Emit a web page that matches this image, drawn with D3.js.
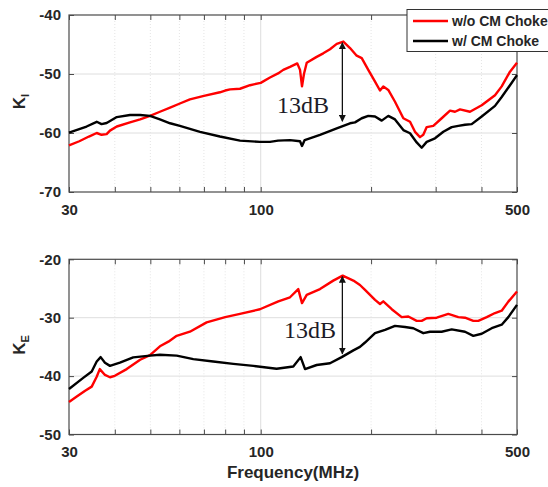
<!DOCTYPE html>
<html>
<head>
<meta charset="utf-8">
<script src="https://cdn.jsdelivr.net/npm/d3@7"></script>
<style>
  html, body { margin: 0; padding: 0; background: #fff; }
  svg { display: block; font-family: "Liberation Sans", Arial, sans-serif; }
</style>
</head>
<body>
<svg id="chart" width="548" height="487"></svg>
<script>
// ---------- DATA ----------
const freqTicks = [30, 40, 50, 60, 70, 80, 90, 100, 200, 300, 400, 500];
const freqLabels = [30, 100, 500];
const kiTicks = [-70, -60, -50, -40];
const keTicks = [-50, -40, -30, -20];
const seriesNames = ["w/o CM Choke", "w/ CM Choke"];
const seriesColors = ["#ff0000", "#000000"];

// K_I without CM choke  [MHz, dB]
const kiWithout = [
  [30,-62.1],[32,-61.4],[34,-60.6],[35.7,-60.0],[36.8,-60.3],[38.0,-60.2],[38.8,-59.6],
  [40.5,-58.9],[44.0,-58.2],[46.9,-57.7],[49.9,-57.1],[53.1,-56.4],[56.6,-55.7],[60.2,-55.0],
  [64.1,-54.3],[70.0,-53.7],[77.4,-53.1],[80.0,-52.8],[82.5,-52.6],[87.8,-52.5],[93.5,-51.9],
  [100,-51.5],[106,-50.6],[111.5,-49.9],[115.2,-49.3],[120.2,-48.8],[125.8,-48.2],[128.0,-49.3],
  [129.6,-52.1],[131.2,-50.0],[133.5,-48.1],[142.1,-47.1],[148.1,-46.5],[154.5,-45.8],
  [161.2,-44.9],[168.0,-44.5],[175.2,-45.6],[182.7,-46.9],[188.6,-47.3],[196.5,-49.3],
  [205.0,-51.3],[211.5,-52.8],[215.9,-52.1],[222.8,-52.7],[232.4,-54.7],[244.9,-57.5],
  [255.4,-58.1],[263.5,-59.8],[271.9,-60.7],[277.6,-60.3],[283.6,-59.0],[295.6,-58.8],
  [311.6,-57.5],[328.3,-56.2],[338.8,-56.4],[349.6,-56.0],[372.2,-56.4],[400.6,-55.3],
  [435.5,-53.6],[454.2,-52.1],[478.5,-49.6],[500,-48.1]
];
// K_I with CM choke
const kiWith = [
  [30,-59.95],[33.5,-58.9],[35.7,-58.1],[36.8,-58.5],[38.0,-58.3],[40.5,-57.3],[44.0,-56.95],
  [46.9,-56.95],[49.9,-57.1],[53.1,-57.7],[56.6,-58.35],[60.2,-58.8],[68.3,-59.8],[77.4,-60.6],
  [87.8,-61.3],[99.5,-61.5],[106,-61.5],[111.5,-61.3],[120.2,-61.2],[128.0,-61.4],[129.6,-62.2],
  [131.8,-61.2],[145.1,-60.3],[161.2,-59.2],[175.2,-58.35],[180.8,-58.2],[188.6,-57.5],
  [196.5,-57.1],[205.0,-57.2],[213.8,-57.9],[222.8,-57.1],[232.4,-57.7],[244.9,-59.5],
  [255.4,-60.05],[266.3,-61.6],[274.8,-62.5],[283.6,-61.5],[298.8,-60.9],[314.8,-59.8],
  [331.8,-59.0],[345.9,-58.8],[360.7,-58.6],[376.2,-58.5],[400.6,-57.2],[435.5,-55.4],
  [454.2,-53.9],[478.5,-51.9],[500,-50.2]
];
// K_E without CM choke
const keWithout = [
  [30,-44.45],[31.5,-43.5],[33.2,-42.5],[34.6,-41.8],[35.7,-40.1],[36.4,-38.8],[37.6,-39.8],
  [38.8,-40.2],[40.0,-39.95],[43.1,-38.8],[46.9,-37.2],[49.9,-36.4],[53.1,-34.9],[56.0,-34.1],
  [59.0,-33.1],[64.1,-32.4],[71.2,-30.8],[80.0,-29.9],[87.8,-29.35],[99.5,-28.55],[111.7,-27.2],
  [120.2,-26.5],[126.6,-25.1],[129.6,-27.5],[133.5,-26.1],[145.1,-25.1],[157.7,-23.65],
  [167.3,-22.8],[178.9,-23.65],[186.5,-24.4],[192.5,-25.25],[205.0,-26.95],[211.5,-27.65],
  [215.9,-27.2],[227.7,-28.55],[242.4,-29.9],[252.7,-29.8],[266.3,-30.55],[274.8,-30.55],
  [283.6,-30.1],[302.0,-30.0],[324.8,-29.35],[345.9,-29.9],[360.7,-30.0],[380.0,-30.55],
  [392.1,-30.55],[413.4,-29.9],[435.5,-29.2],[454.2,-28.8],[473.5,-27.25],[500,-25.5]
];
// K_E with CM choke
const keWith = [
  [30,-42.2],[32.8,-40.3],[34.6,-39.2],[35.7,-37.5],[36.6,-36.75],[37.6,-37.7],[38.8,-38.25],
  [41.3,-37.7],[44.9,-36.8],[49.9,-36.5],[53.1,-36.35],[59.0,-36.5],[65.5,-37.1],[74.2,-37.5],
  [84.2,-37.9],[95.5,-38.25],[110.5,-38.75],[122.7,-38.35],[128.5,-36.75],[132.1,-38.8],
  [142.1,-38.1],[154.5,-37.8],[166.3,-36.75],[178.9,-35.6],[186.5,-35.0],[192.5,-34.25],
  [205.0,-32.65],[218.3,-32.1],[232.4,-31.4],[247.5,-31.6],[260.7,-31.8],[277.6,-32.65],
  [289.5,-32.4],[311.6,-32.4],[331.8,-32.0],[360.7,-32.4],[380.0,-33.1],[400.6,-32.75],
  [426.6,-31.8],[454.2,-31.2],[473.5,-29.9],[500,-27.8]
];
// annotations: [freq, top dB, bottom dB], text anchor [freq, dB]
const kiArrow = [167, -44.7, -58.0];
const keArrow = [167, -22.95, -36.2];
const kiNote = [110.8, -56.6];
const keNote = [115.7, -33.5];
const noteText = "13dB";

// ---------- DRAWING ----------
const svg = d3.select("#chart");
const defs = svg.append("defs");
defs.append("marker").attr("id", "ah").attr("viewBox", "0 0 10 10")
  .attr("refX", 9).attr("refY", 5).attr("markerWidth", 7).attr("markerHeight", 7)
  .attr("markerUnits", "userSpaceOnUse").attr("orient", "auto-start-reverse")
  .append("path").attr("d", "M0,0 L10,5 L0,10 z").attr("fill", "#111");

const X0 = 69, X1 = 517;
const axisColor = "#4a4a4a", textColor = "#262626";
const sans = "'Liberation Sans', Arial, sans-serif";
const serif = "'Liberation Serif', 'Times New Roman', serif";

function panel(top, bottom, yDomain, yTicks, sub, withoutData, withData, arrow, note) {
  const x = d3.scaleLog().domain([30, 500]).range([X0, X1]);
  const y = d3.scaleLinear().domain(yDomain).range([bottom, top]);
  const g = svg.append("g");

  // grid
  g.selectAll(".hg").data(yTicks.slice(1, -1)).join("line")
    .attr("x1", X0).attr("x2", X1).attr("y1", d => y(d)).attr("y2", d => y(d))
    .attr("stroke", "#dedede").attr("stroke-width", 1);
  g.selectAll(".vg").data(freqTicks.slice(1, -1)).join("line")
    .attr("x1", d => x(d)).attr("x2", d => x(d)).attr("y1", top).attr("y2", bottom)
    .attr("stroke", d => d === 100 ? "#dedede" : "#e4e4e4").attr("stroke-width", 1)
    .attr("stroke-dasharray", d => d === 100 ? null : "1,2");

  // axes
  const fmt = d => freqLabels.includes(d) ? String(d) : "";
  const axB = g.append("g").attr("transform", `translate(0,${bottom})`)
    .call(d3.axisBottom(x).tickValues(freqTicks).tickFormat(fmt).tickSizeInner(-5).tickSizeOuter(0).tickPadding(12));
  const axT = g.append("g").attr("transform", `translate(0,${top})`)
    .call(d3.axisTop(x).tickValues(freqTicks).tickFormat("").tickSizeInner(-5).tickSizeOuter(0));
  const axL = g.append("g").attr("transform", `translate(${X0},0)`)
    .call(d3.axisLeft(y).tickValues(yTicks).tickFormat(d => String(d)).tickSizeInner(-5).tickSizeOuter(0).tickPadding(8));
  const axR = g.append("g").attr("transform", `translate(${X1},0)`)
    .call(d3.axisRight(y).tickValues(yTicks).tickFormat("").tickSizeInner(-5).tickSizeOuter(0));
  [axB, axT, axL, axR].forEach(a => {
    a.attr("font-family", null).attr("font-size", null);
    a.select(".domain").remove();
    a.selectAll("line").attr("stroke", axisColor);
    a.selectAll("text").attr("fill", textColor).style("font-size", "15px").style("font-weight", "bold")
      .style("font-family", sans);
  });
  g.append("rect").attr("x", X0).attr("y", top).attr("width", X1 - X0).attr("height", bottom - top)
    .attr("fill", "none").attr("stroke", axisColor).attr("stroke-width", 1.2);

  // curves
  const line = d3.line().x(d => x(d[0])).y(d => y(d[1]));
  g.append("path").datum(withoutData).attr("d", line).attr("fill", "none")
    .attr("stroke", seriesColors[0]).attr("stroke-width", 2.4).attr("stroke-linejoin", "round");
  g.append("path").datum(withData).attr("d", line).attr("fill", "none")
    .attr("stroke", seriesColors[1]).attr("stroke-width", 2.4).attr("stroke-linejoin", "round");

  // annotation
  g.append("line").attr("x1", x(arrow[0])).attr("x2", x(arrow[0]))
    .attr("y1", y(arrow[1])).attr("y2", y(arrow[2]))
    .attr("stroke", "#111").attr("stroke-width", 1.3)
    .attr("marker-start", "url(#ah)").attr("marker-end", "url(#ah)");
  g.append("text").attr("x", x(note[0])).attr("y", y(note[1]))
    .style("font-family", serif).style("font-size", "24px")
    .attr("fill", "#1c1c28").text(noteText);

  // y label
  const yl = g.append("text").attr("transform", `translate(25,${(top + bottom) / 2 - 2}) rotate(-90)`)
    .attr("text-anchor", "middle").style("font-family", sans).style("font-weight", "bold")
    .style("font-size", "17px").attr("fill", textColor);
  yl.append("tspan").text("K");
  yl.append("tspan").style("font-size", "11px").attr("dy", 4).text(sub);
}

panel(15, 192, [-70, -40], kiTicks, "I", kiWithout, kiWith, kiArrow, kiNote);
panel(259.3, 434.5, [-50, -20], keTicks, "E", keWithout, keWith, keArrow, keNote);

// x label
svg.append("text").attr("x", 293).attr("y", 478).attr("text-anchor", "middle")
  .style("font-family", sans).style("font-weight", "bold").style("font-size", "17px")
  .attr("fill", textColor).text("Frequency(MHz)");

// legend
const lg = svg.append("g");
lg.append("rect").attr("x", 407).attr("y", 9.5).attr("width", 160).attr("height", 42)
  .attr("fill", "#fff").attr("stroke", "#333").attr("stroke-width", 1);
seriesNames.forEach((n, i) => {
  const yy = 21 + i * 20;
  lg.append("line").attr("x1", 413).attr("x2", 448).attr("y1", yy).attr("y2", yy)
    .attr("stroke", seriesColors[i]).attr("stroke-width", 2.4);
  lg.append("text").attr("x", 452).attr("y", yy + 5)
    .style("font-family", sans).style("font-size", "14px").style("font-weight", "bold")
    .attr("fill", textColor).text(n);
});
</script>
</body>
</html>
